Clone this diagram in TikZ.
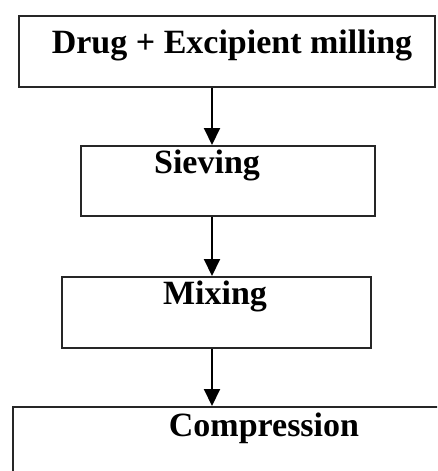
\documentclass[tikz,border=0pt]{standalone}
\usepackage{fontspec}
\setmainfont{Liberation Serif}
\usetikzlibrary{arrows.meta}
\begin{document}
\begin{tikzpicture}[x=1pt,y=-1pt,
  box/.style={draw=black!85,line width=2.2pt,rectangle,inner sep=0pt,anchor=north west},
  lbl/.style={font=\fontsize{34}{34}\selectfont\bfseries,anchor=base,inner sep=0pt},
  flow/.style={line width=2pt,-{Triangle[length=17pt,width=16pt]}}]
\useasboundingbox (0,0) rectangle (437,471);
\clip (0,0) rectangle (437,471);
\fill[white] (0,0) rectangle (437,471);
\node[box,minimum width=416pt,minimum height=71pt] (b1) at (18,15) {};
\node[box,minimum width=294pt,minimum height=70pt] (b2) at (80,145) {};
\node[box,minimum width=309pt,minimum height=71pt] (b3) at (61,276) {};
\node[box,minimum width=440pt,minimum height=90pt] (b4) at (12,406) {};
\node[lbl] (t1) at (232,53) {Drug + Excipient milling};
\node[lbl] (t2) at (207,173) {Sieving};
\node[lbl] (t3) at (215,304) {Mixing};
\node[lbl] (t4) at (264,436) {Compression};
\coordinate (ax) at (212,0);
\draw[flow] (b1.south -| ax) -- (b2.north -| ax);
\draw[flow] (b2.south -| ax) -- (b3.north -| ax);
\draw[flow] (b3.south -| ax) -- (b4.north -| ax);
\end{tikzpicture}
\end{document}
